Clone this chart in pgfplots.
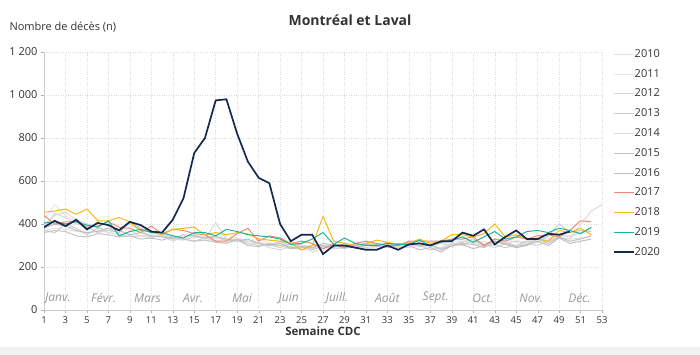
\documentclass[border=0pt]{standalone}
\usepackage{fontspec}
\setmainfont{Open Sans}
\usepackage{pgfplots}
\pgfplotsset{compat=1.18}
\definecolor{c2010}{HTML}{E3E3E3}
\definecolor{c2011}{HTML}{E8E8E8}
\definecolor{c2012}{HTML}{D6D6D6}
\definecolor{c2013}{HTML}{CDCDCD}
\definecolor{c2014}{HTML}{DADADA}
\definecolor{c2015}{HTML}{C4C4C4}
\definecolor{c2016}{HTML}{BFBFBF}
\definecolor{c2017}{HTML}{EE8A74}
\definecolor{c2018}{HTML}{F5B914}
\definecolor{c2019}{HTML}{1DB597}
\definecolor{c2020}{HTML}{15294D}
\definecolor{txt}{HTML}{333333}
\begin{document}
\begin{tikzpicture}[x=1pt,y=1pt]
\useasboundingbox (0,0) rectangle (700,355);
\fill[black!5] (0,0) rectangle (700,8);
\node[anchor=center,font=\fontsize{14}{16}\selectfont\bfseries,text=txt] at (350,335) {Montréal et Laval};
\node[anchor=west,font=\fontsize{11}{13}\selectfont,text=txt] at (6,328) {Nombre de décès (n)};
\begin{axis}[
  at={(44pt,45pt)}, anchor=south west,
  scale only axis, width=558pt, height=258pt,
  xmin=1, xmax=53, ymin=0, ymax=1200,
  xtick={1,3,...,53}, ytick={0,200,...,1200},
  grid=major, grid style={dotted, black!14},
  axis x line*=bottom, axis y line*=left,
  axis line style={black!20},
  tick style={black!30}, tick align=outside, major tick length=3pt,
  /pgf/number format/assume math mode=true,
  /pgf/number format/1000 sep={\ },
  yticklabel style={font=\fontsize{11}{13}\selectfont, text=txt},
  xticklabel style={font=\fontsize{9.5}{11}\selectfont, text=txt},
  xlabel={\bfseries Semaine CDC},
  xlabel style={font=\fontsize{11.5}{13}\selectfont, text=txt, yshift=4pt},
  legend style={at={(1.014,1.019)}, anchor=north west, draw=none, fill=none,
    font=\fontsize{11}{13}\selectfont, text=txt,
    nodes={text height=8pt, text depth=2pt, inner sep=0pt},
    row sep=9.8pt},
  legend cell align=left,
  legend image code/.code={\draw[#1] (0pt,0pt) -- (20pt,0pt);},
  every axis plot/.append style={line width=1pt, no markers},
]
\addplot[c2010] coordinates {(1,370)(2,380)(3,375)(4,365)(5,360)(6,370)(7,380)(8,355)(9,350)(10,345)(11,350)(12,340)(13,335)(14,330)(15,340)(16,335)(17,320)(18,330)(19,325)(20,320)(21,315)(22,305)(23,300)(24,305)(25,295)(26,300)(27,290)(28,300)(29,295)(30,290)(31,285)(32,295)(33,300)(34,295)(35,300)(36,305)(37,300)(38,310)(39,305)(40,320)(41,320)(42,310)(43,315)(44,325)(45,315)(46,320)(47,330)(48,325)(49,340)(50,330)(51,335)(52,340)};
\addlegendentry{2010}
\addplot[c2011] coordinates {(1,420)(2,490)(3,440)(4,410)(5,380)(6,370)(7,360)(8,375)(9,370)(10,345)(11,340)(12,355)(13,350)(14,330)(15,345)(16,340)(17,330)(18,345)(19,335)(20,320)(21,330)(22,310)(23,315)(24,300)(25,305)(26,290)(27,295)(28,310)(29,300)(30,290)(31,300)(32,310)(33,295)(34,300)(35,320)(36,305)(37,290)(38,315)(39,310)(40,330)(41,310)(42,320)(43,300)(44,330)(45,325)(46,310)(47,340)(48,330)(49,350)(50,345)(51,360)(52,370)};
\addlegendentry{2011}
\addplot[c2012] coordinates {(1,380)(2,450)(3,430)(4,400)(5,390)(6,360)(7,370)(8,380)(9,400)(10,370)(11,340)(12,345)(13,320)(14,340)(15,350)(16,330)(17,405)(18,330)(19,330)(20,320)(21,310)(22,300)(23,320)(24,290)(25,280)(26,285)(27,300)(28,285)(29,290)(30,305)(31,300)(32,295)(33,310)(34,290)(35,305)(36,300)(37,280)(38,290)(39,310)(40,300)(41,320)(42,305)(43,290)(44,310)(45,320)(46,310)(47,300)(48,320)(49,350)(50,340)(51,360)(52,380)};
\addlegendentry{2012}
\addplot[c2013] coordinates {(1,370)(2,360)(3,400)(4,380)(5,350)(6,380)(7,370)(8,360)(9,410)(10,380)(11,360)(12,350)(13,340)(14,330)(15,320)(16,335)(17,345)(18,320)(19,330)(20,310)(21,300)(22,305)(23,290)(24,310)(25,300)(26,280)(27,295)(28,300)(29,285)(30,300)(31,310)(32,305)(33,290)(34,300)(35,315)(36,295)(37,305)(38,285)(39,300)(40,315)(41,330)(42,295)(43,305)(44,290)(45,300)(46,320)(47,315)(48,345)(49,400)(50,360)(51,370)(52,365)};
\addlegendentry{2013}
\addplot[c2014] coordinates {(1,395)(2,440)(3,455)(4,420)(5,400)(6,390)(7,360)(8,350)(9,340)(10,345)(11,335)(12,350)(13,330)(14,325)(15,340)(16,335)(17,320)(18,310)(19,325)(20,300)(21,315)(22,290)(23,280)(24,295)(25,300)(26,270)(27,285)(28,300)(29,290)(30,295)(31,290)(32,300)(33,315)(34,300)(35,290)(36,310)(37,300)(38,310)(39,295)(40,320)(41,310)(42,300)(43,330)(44,315)(45,300)(46,310)(47,300)(48,320)(49,335)(50,330)(51,400)(52,460)(53,490)};
\addlegendentry{2014}
\addplot[c2015] coordinates {(1,360)(2,370)(3,365)(4,345)(5,340)(6,355)(7,350)(8,340)(9,345)(10,330)(11,335)(12,325)(13,340)(14,330)(15,320)(16,325)(17,315)(18,310)(19,330)(20,300)(21,295)(22,310)(23,300)(24,285)(25,290)(26,300)(27,300)(28,290)(29,310)(30,290)(31,300)(32,305)(33,295)(34,300)(35,310)(36,300)(37,300)(38,280)(39,300)(40,310)(41,305)(42,290)(43,320)(44,310)(45,295)(46,305)(47,330)(48,310)(49,340)(50,320)(51,330)(52,345)};
\addlegendentry{2015}
\addplot[c2016] coordinates {(1,380)(2,400)(3,390)(4,370)(5,360)(6,365)(7,380)(8,370)(9,350)(10,360)(11,345)(12,340)(13,330)(14,350)(15,345)(16,335)(17,340)(18,330)(19,320)(20,330)(21,310)(22,300)(23,310)(24,290)(25,295)(26,290)(27,310)(28,300)(29,295)(30,290)(31,305)(32,295)(33,300)(34,310)(35,300)(36,280)(37,290)(38,270)(39,300)(40,305)(41,285)(42,300)(43,320)(44,305)(45,290)(46,300)(47,320)(48,300)(49,335)(50,310)(51,320)(52,330)};
\addlegendentry{2016}
\addplot[c2017] coordinates {(1,440)(2,400)(3,410)(4,410)(5,385)(6,390)(7,410)(8,385)(9,380)(10,360)(11,390)(12,355)(13,375)(14,370)(15,355)(16,350)(17,320)(18,320)(19,355)(20,380)(21,320)(22,345)(23,335)(24,310)(25,320)(26,310)(27,285)(28,305)(29,290)(30,310)(31,320)(32,310)(33,300)(34,300)(35,320)(36,320)(37,320)(38,320)(39,330)(40,330)(41,340)(42,300)(43,330)(44,320)(45,340)(46,330)(47,345)(48,350)(49,340)(50,370)(51,415)(52,410)};
\addlegendentry{2017}
\addplot[c2018] coordinates {(1,455)(2,460)(3,470)(4,445)(5,470)(6,415)(7,415)(8,430)(9,410)(10,370)(11,365)(12,350)(13,375)(14,380)(15,385)(16,350)(17,360)(18,350)(19,360)(20,355)(21,330)(22,325)(23,320)(24,310)(25,280)(26,300)(27,435)(28,320)(29,310)(30,300)(31,310)(32,325)(33,315)(34,305)(35,310)(36,330)(37,310)(38,320)(39,350)(40,350)(41,340)(42,355)(43,400)(44,340)(45,350)(46,330)(47,330)(48,320)(49,370)(50,360)(51,380)(52,350)};
\addlegendentry{2018}
\addplot[c2019] coordinates {(1,405)(2,410)(3,400)(4,410)(5,395)(6,385)(7,415)(8,345)(9,365)(10,375)(11,360)(12,360)(13,345)(14,335)(15,360)(16,360)(17,345)(18,375)(19,365)(20,350)(21,345)(22,340)(23,330)(24,305)(25,310)(26,330)(27,360)(28,305)(29,335)(30,310)(31,300)(32,300)(33,310)(34,305)(35,305)(36,325)(37,300)(38,315)(39,325)(40,340)(41,315)(42,340)(43,365)(44,330)(45,340)(46,365)(47,370)(48,360)(49,380)(50,370)(51,355)(52,385)};
\addlegendentry{2019}
\addplot[c2020, line width=1.7pt] coordinates {(1,385)(2,415)(3,390)(4,420)(5,375)(6,405)(7,395)(8,370)(9,410)(10,395)(11,365)(12,360)(13,420)(14,520)(15,730)(16,800)(17,975)(18,980)(19,820)(20,690)(21,615)(22,590)(23,400)(24,320)(25,350)(26,350)(27,260)(28,300)(29,300)(30,290)(31,280)(32,280)(33,300)(34,280)(35,305)(36,310)(37,300)(38,320)(39,320)(40,360)(41,345)(42,375)(43,305)(44,340)(45,370)(46,330)(47,330)(48,355)(49,350)(50,365)};
\addlegendentry{2020}
\begin{scope}[font=\fontsize{12}{14}\selectfont\itshape, text=black!40]
\node at (axis cs:2.3,56) {Janv.};
\node at (axis cs:6.55,56) {Févr.};
\node at (axis cs:10.65,56) {Mars};
\node at (axis cs:14.9,56) {Avr.};
\node at (axis cs:19.45,56) {Mai};
\node at (axis cs:23.8,56) {Juin};
\node at (axis cs:28.3,56) {Juill.};
\node at (axis cs:33,56) {Août};
\node at (axis cs:37.5,56) {Sept.};
\node at (axis cs:41.9,56) {Oct.};
\node at (axis cs:46.4,56) {Nov.};
\node at (axis cs:50.9,56) {Déc.};
\end{scope}
\end{axis}
\end{tikzpicture}
\end{document}
